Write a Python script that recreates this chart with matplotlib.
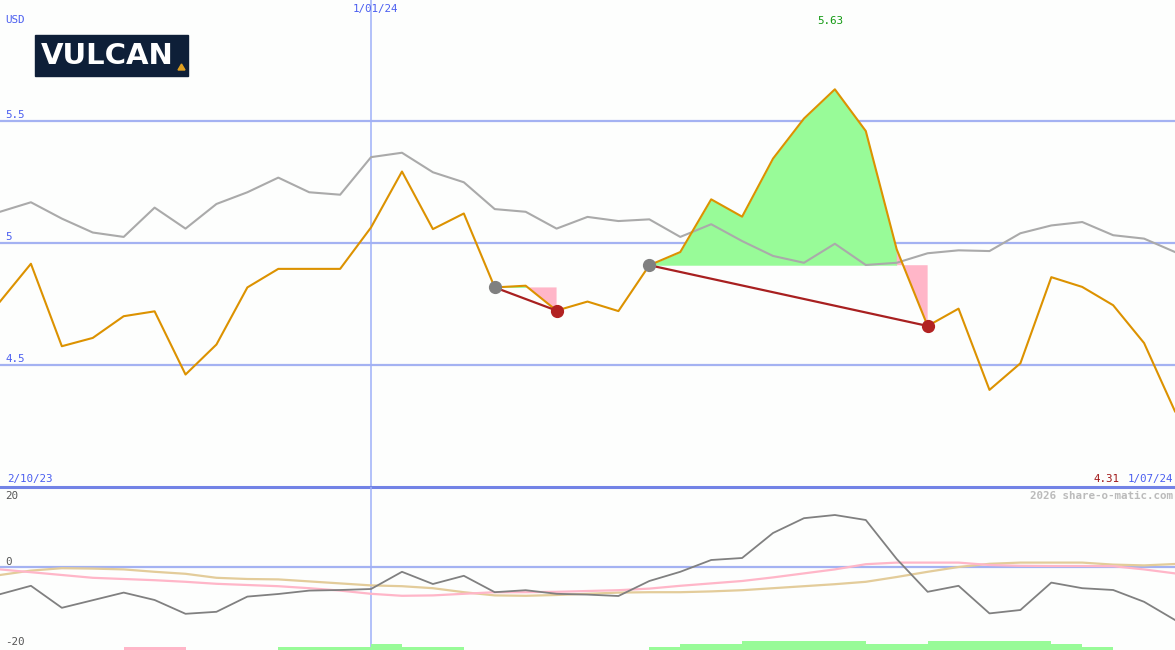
import numpy as np
import matplotlib
matplotlib.use("Agg")
import matplotlib.pyplot as plt
from matplotlib.patches import Rectangle, Polygon

# ---------------------------------------------------------------------
# Datos
# ---------------------------------------------------------------------
fecha_ini, fecha_fin, fecha_linea = "2/10/23", "1/07/24", "1/01/24"
idx_linea = 12

precio = [4.76, 4.915, 4.577, 4.611, 4.70, 4.72, 4.461, 4.584, 4.818, 4.894,
          4.894, 4.894, 5.064, 5.293, 5.057, 5.121, 4.818, 4.825, 4.723, 4.76,
          4.721, 4.909, 4.963, 5.179, 5.108, 5.346, 5.51, 5.63, 5.459, 4.974,
          4.66, 4.731, 4.398, 4.507, 4.86, 4.82, 4.745, 4.59, 4.31]

comparativo = [5.128, 5.167, 5.10, 5.043, 5.025, 5.145, 5.059, 5.16, 5.208, 5.268,
               5.208, 5.198, 5.352, 5.37, 5.29, 5.249, 5.139, 5.128, 5.059, 5.107,
               5.09, 5.097, 5.025, 5.077, 5.008, 4.947, 4.919, 4.997, 4.91, 4.919,
               4.958, 4.97, 4.967, 5.04, 5.072, 5.086, 5.032, 5.018, 4.963]

# señales: (índice de compra, índice de venta)
senales = [(16, 18), (21, 30)]

osc = [-6.8, -4.7, -10.2, -8.3, -6.4, -8.25, -11.7, -11.2, -7.4, -6.75,
       -5.9, -5.75, -5.5, -1.2, -4.25, -2.2, -6.3, -5.8, -6.7, -6.9,
       -7.25, -3.5, -1.2, 1.75, 2.25, 8.5, 12.2, 13.0, 11.75, 2.0,
       -6.2, -4.7, -11.6, -10.75, -3.9, -5.3, -5.75, -8.7, -13.25]

osc_rosa = [-0.6, -1.3, -2.0, -2.7, -3.0, -3.3, -3.7, -4.2, -4.5, -4.8,
            -5.3, -5.9, -6.7, -7.2, -7.1, -6.7, -6.3, -6.3, -6.2, -6.0,
            -5.8, -5.4, -4.7, -4.1, -3.5, -2.6, -1.6, -0.6, 0.7, 1.1,
            1.1, 1.1, 0.5, 0.3, 0.25, 0.25, 0.2, -0.6, -1.6]

osc_beige = [-2.0, -0.9, -0.3, -0.4, -0.6, -1.2, -1.7, -2.7, -3.0, -3.1,
             -3.6, -4.1, -4.6, -4.8, -5.3, -6.3, -7.1, -7.2, -7.0, -6.7,
             -6.4, -6.3, -6.3, -6.1, -5.8, -5.3, -4.8, -4.3, -3.7, -2.5,
             -1.2, 0.0, 0.8, 1.1, 1.1, 1.1, 0.6, 0.4, 0.75]

barras = [0, 0, 0, 0, -1, -1, 0, 0, 0, 1, 1, 1, 2, 1, 1, 0, 0, 0, 0, 0,
          0, 1, 2, 2, 3, 3, 3, 3, 2, 2, 3, 3, 3, 3, 2, 1, 0, 0]

niveles_precio = [4.5, 5.0, 5.5]
etiquetas_precio = ["4.5", "5", "5.5"]
niveles_osc = [20, 0, -20]

# ---------------------------------------------------------------------
# Estilo
# ---------------------------------------------------------------------
FONDO = "#fdfefd"
COL_REJ = "#a4b2f2"
COL_VERT = "#9fb0f8"
COL_SEP = "#7283e6"
COL_TXT = "#4a5ef0"
COL_NAR = "#dc9200"
COL_GRIS = "#aaaaaa"
COL_VERDE = "#98fb98"
COL_ROSA = "#ffb6c8"
COL_ROJO = "#a82020"
MONO = "DejaVu Sans Mono"
FS = 7.8

W, H = 1175, 650
fig = plt.figure(figsize=(W / 100, H / 100), dpi=100, facecolor=FONDO)


def px(x, y):
    return x / W, 1 - y / H


x = np.arange(len(precio))
precio = np.array(precio)

# ---------------------------------------------------------------------
# Panel superior: precio
# ---------------------------------------------------------------------
ax = fig.add_axes([0, 163 / H, 1, 487 / H], facecolor=FONDO)
ax.set_xlim(0, len(precio) - 1)
ax.set_ylim(4.0, 5.996)
ax.axis("off")

for nivel, txt in zip(niveles_precio, etiquetas_precio):
    ax.axhline(nivel, color=COL_REJ, lw=1.6, zorder=1)
    ax.annotate(txt, (0, nivel), xytext=(4, 0.5), textcoords="offset points",
                fontsize=FS, family=MONO, color=COL_TXT, va="bottom")
ax.axvline(idx_linea, color=COL_VERT, lw=1.1, zorder=1)
ax.axhline(4.0, color=COL_SEP, lw=2.2, zorder=3, clip_on=False)

ax.plot(x, comparativo, color=COL_GRIS, lw=1.5, zorder=2)

for s, e in senales:
    base = precio[s]
    ax.fill_between(x[s:e], precio[s:e], base, where=precio[s:e] >= base - 1e-9,
                    color=COL_VERDE, lw=0, zorder=1.5)
    ax.add_patch(Polygon([(e - 1, precio[e - 1]), (e, precio[e]), (e, base), (e - 1, base)],
                         closed=True, color=COL_ROSA, lw=0, zorder=1.6))

ax.plot(x, precio, color=COL_NAR, lw=1.5, zorder=4)

for s, e in senales:
    ax.plot([s, e], [precio[s], precio[e]], color=COL_ROJO, lw=1.6, zorder=5)
    ax.plot(s, precio[s], "o", color="#808080", ms=8.5, zorder=6)
    ax.plot(e, precio[e], "o", color="#b22222", ms=8.5, zorder=6)

# ---------------------------------------------------------------------
# Panel inferior: oscilador
# ---------------------------------------------------------------------
ax2 = fig.add_axes([0, 0, 1, 163 / H], facecolor=FONDO)
ax2.set_xlim(0, len(precio) - 1)
ax2.set_ylim(-20.75, 20)
ax2.axis("off")

ax2.axhline(0, color=COL_REJ, lw=1.6, zorder=1)
ax2.axvline(idx_linea, color=COL_VERT, lw=1.1, zorder=1)

b = np.array(barras)
ax2.bar(np.arange(len(b)), np.abs(b) * 0.75, width=1, align="edge", bottom=-20.75,
        color=[COL_VERDE if v > 0 else COL_ROSA for v in b], lw=0, zorder=1)

ax2.plot(x, osc_beige, color="#e3cc9a", lw=1.6, zorder=2)
ax2.plot(x, osc_rosa, color=COL_ROSA, lw=1.6, zorder=3)
ax2.plot(x, osc, color="#808080", lw=1.3, zorder=4)

for nivel, yy in zip(niveles_osc, [496, 562, 642]):
    fig.text(*px(5, yy), str(nivel), fontsize=FS, family=MONO, color="#555555",
             va="center", ha="left")

# ---------------------------------------------------------------------
# Textos
# ---------------------------------------------------------------------
fig.text(*px(5, 20), "USD", fontsize=FS, family=MONO, color=COL_TXT, va="center")
fig.text(*px(375, 9), fecha_linea, fontsize=FS, family=MONO, color=COL_TXT,
         va="center", ha="center")
fig.text(*px(830, 21), f"{precio.max():.2f}", fontsize=FS, family=MONO,
         color="#119911", va="center", ha="center")
fig.text(*px(7, 479), fecha_ini, fontsize=FS, family=MONO, color=COL_TXT, va="center")
fig.text(*px(1173, 479), fecha_fin, fontsize=FS, family=MONO, color=COL_TXT,
         va="center", ha="right")
fig.text(*px(1119, 479), f"{precio[-1]:.2f}", fontsize=FS, family=MONO,
         color="#a01818", va="center", ha="right")
fig.text(*px(1173, 496), "2026 share-o-matic.com", fontsize=FS, family=MONO,
         color="#bbbbbb", va="center", ha="right", fontweight="bold")

# logo
lx0, ly0 = px(35, 76)
lx1, ly1 = px(188, 35)
fig.patches.append(Rectangle((lx0, ly0), lx1 - lx0, ly1 - ly0, transform=fig.transFigure,
                             color="#0e1f38", zorder=10))
fig.text(*px(107, 56), "VULCAN", fontsize=21, fontweight="heavy", family="DejaVu Sans",
         color="white", ha="center", va="center", zorder=11)
fig.patches.append(Polygon([px(178, 70), px(185, 70), px(181.5, 64)], closed=True,
                           transform=fig.transFigure, color="#e0a020", zorder=11))

fig.savefig("out.png", dpi=100, facecolor=FONDO)
